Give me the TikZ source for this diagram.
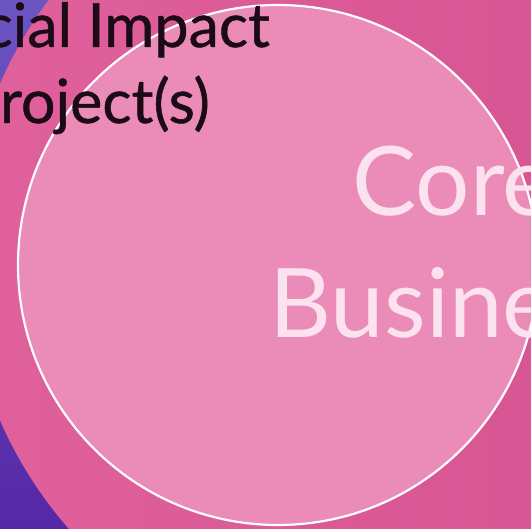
\documentclass[tikz,border=0pt]{standalone}
\usepackage{fontspec}
\usepackage{xcolor}
\usepackage{tikz}
\usetikzlibrary{positioning}
\newfontfamily\slidefont{Lato}
\newfontfamily\impactfont{Lato}[FakeBold=0.8]
\definecolor{slidepurple1}{HTML}{6A55C2}
\definecolor{slidepurple2}{HTML}{5628A6}
\definecolor{impactpink1}{HTML}{E0619C}
\definecolor{impactpink2}{HTML}{D4508E}
\definecolor{corepink}{HTML}{EA8CB7}
\definecolor{coretext}{HTML}{FCE2EF}
\definecolor{impacttext}{HTML}{1C0B16}

\begin{document}
\begin{tikzpicture}[
  x=1pt, y=-1pt,
  font=\slidefont,
  bigcircle/.style={left color=impactpink1, right color=impactpink2, draw=none},
  corecircle/.style={fill=corepink, draw=white, line width=2.2pt},
  impactlabel/.style={anchor=base east, inner sep=0pt, text=impacttext,
    font=\impactfont\fontsize{61}{73}\selectfont},
  corelabel/.style={anchor=base, inner sep=0pt, text=coretext,
    font=\slidefont\fontsize{96}{116}\selectfont}
]
\useasboundingbox (0,0) rectangle (531,529);
\clip (0,0) rectangle (531,529);

% backdrop and the two circles
\shade[top color=slidepurple1, bottom color=slidepurple2] (0,0) rectangle (531,529);
\shade[bigcircle] (386,252) circle[radius=421pt];
\draw[corecircle] (278,265) circle[radius=260pt];

% labels
\node[impactlabel] (social) at (270,47) {Social Impact};
\node[impactlabel] (project) at (210,123) {Project(s)};
\node[corelabel] (core) at (453,216) {Core};
\node[corelabel] (business) at (453,338) {Business};

\end{tikzpicture}
\end{document}
